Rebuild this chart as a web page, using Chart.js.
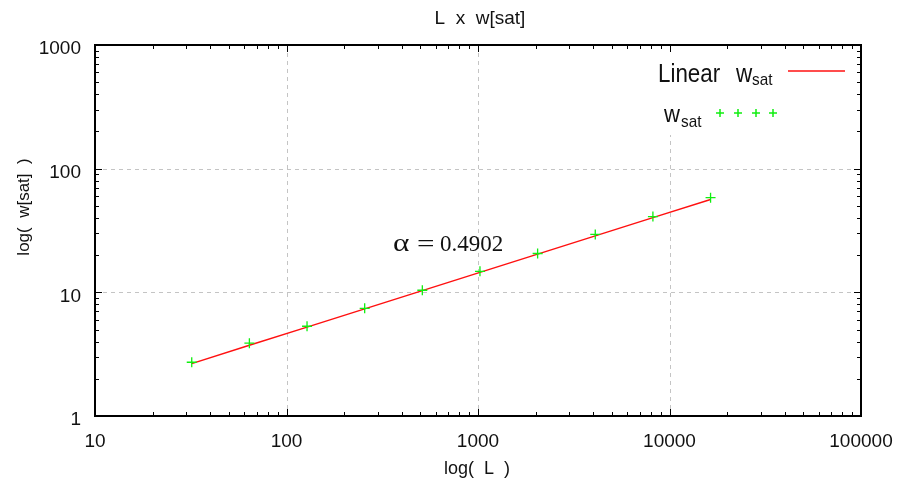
<!DOCTYPE html>
<html>
<head>
<meta charset="utf-8">
<script src="https://cdn.jsdelivr.net/npm/chart.js@4.4.0/dist/chart.umd.min.js"></script>
<style>
  html, body { margin: 0; padding: 0; background: #fff; }
</style>
</head>
<body>
<canvas id="chart" width="901" height="482"></canvas>
<script>
// data
const sizes = [32, 64, 128, 256, 512, 1024, 2048, 4096, 8192, 16384];
const wsat = [2.72, 3.88, 5.32, 7.43, 10.4, 14.8, 20.6, 29.4, 41.0, 58.3];
const fitLine = [2.65, 3.73, 5.23, 7.35, 10.32, 14.5, 20.37, 28.6, 40.2, 56.4];
const xTicks = [10, 100, 1000, 10000, 100000];
const yTicks = [1, 10, 100, 1000];
const alphaValue = '0.4902';

const SANS = '"Liberation Sans", Arial, sans-serif';
const SERIF = '"Liberation Serif", "Times New Roman", serif';
const GREEN = '#10ee10';
const RED = '#ff1010';

function isMajor(list, v) {
  return list.some(t => Math.abs(t - v) / t < 1e-6);
}

// every 1..9 multiple in each decade, for the small inward ticks
function tickValues(list) {
  const out = [];
  for (let i = 0; i < list.length - 1; i++) {
    for (let m = 1; m < 10; m++) out.push({ v: m * list[i], major: m === 1 });
  }
  out.push({ v: list[list.length - 1], major: true });
  return out;
}

function sText(ctx, s, x, y, font, sx) {
  ctx.save();
  ctx.translate(x, y);
  ctx.scale(sx, 1);
  ctx.font = font;
  ctx.fillText(s, 0, 0);
  ctx.restore();
}

function plus(ctx, x, y, r) {
  ctx.beginPath();
  ctx.moveTo(x - r, y); ctx.lineTo(x + r, y);
  ctx.moveTo(x, y - r); ctx.lineTo(x, y + r);
  ctx.stroke();
}

const gnuFrame = {
  id: 'gnuFrame',
  beforeDatasetsDraw(chart) {
    const { ctx, chartArea: a, scales: { x, y } } = chart;
    ctx.save();
    // dashed grid on the decades
    ctx.strokeStyle = '#c4c4c4';
    ctx.lineWidth = 1;
    ctx.setLineDash([4, 4]);
    xTicks.forEach(v => {
      const px = Math.round(x.getPixelForValue(v)) + 0.5;
      if (px <= a.left + 2 || px >= a.right - 2) return;
      ctx.beginPath(); ctx.moveTo(px, a.top); ctx.lineTo(px, a.bottom); ctx.stroke();
    });
    yTicks.forEach(v => {
      const py = Math.round(y.getPixelForValue(v)) + 0.5;
      if (py <= a.top + 2 || py >= a.bottom - 2) return;
      ctx.beginPath(); ctx.moveTo(a.left, py); ctx.lineTo(a.right, py); ctx.stroke();
    });
    ctx.setLineDash([]);
    // legend box is opaque
    ctx.fillStyle = '#fff';
    ctx.fillRect(650, a.top + 2, a.right - 652, 88);
    ctx.restore();
  },
  afterDatasetsDraw(chart) {
    const { ctx, chartArea: a, scales: { x, y } } = chart;
    ctx.save();
    ctx.strokeStyle = '#000';
    ctx.lineWidth = 1;
    tickValues(xTicks).forEach(t => {
      const px = Math.round(x.getPixelForValue(t.v)) + 0.5;
      const len = t.major ? 7 : 4;
      ctx.beginPath();
      ctx.moveTo(px, a.bottom); ctx.lineTo(px, a.bottom - len);
      ctx.moveTo(px, a.top); ctx.lineTo(px, a.top + len);
      ctx.stroke();
    });
    tickValues(yTicks).forEach(t => {
      const py = Math.round(y.getPixelForValue(t.v)) + 0.5;
      const len = t.major ? 7 : 4;
      ctx.beginPath();
      ctx.moveTo(a.left, py); ctx.lineTo(a.left + len, py);
      ctx.moveTo(a.right, py); ctx.lineTo(a.right - len, py);
      ctx.stroke();
    });
    ctx.lineWidth = 2;
    ctx.strokeRect(a.left, a.top, a.right - a.left, a.bottom - a.top);
    ctx.restore();
  },
  afterDraw(chart) {
    const { ctx } = chart;
    ctx.save();
    ctx.fillStyle = '#111';
    ctx.textBaseline = 'alphabetic';

    // title and axis names
    ctx.font = '19px ' + SANS;
    ctx.textAlign = 'center';
    ctx.fillText('L  x  w[sat]', 480, 24);
    ctx.font = '18px ' + SANS;
    ctx.fillText('log(  L  )', 477, 474);
    ctx.save();
    ctx.translate(29, 207);
    ctx.rotate(-Math.PI / 2);
    ctx.font = '17px ' + SANS;
    ctx.fillText('log(  w[sat]  )', 0, 0);
    ctx.restore();

    // slope annotation
    ctx.textAlign = 'left';
    sText(ctx, '\u03b1', 393, 251, '25px ' + SERIF, 1.25);
    sText(ctx, '=', 417, 251, '23px ' + SERIF, 1.35);
    ctx.font = '23px ' + SERIF;
    ctx.fillText(alphaValue, 440, 251);

    // legend
    sText(ctx, 'Linear', 658, 82, '26px ' + SANS, 0.86);
    sText(ctx, 'w', 736, 82, '25px ' + SANS, 0.9);
    sText(ctx, 'sat', 752, 85, '17px ' + SANS, 0.9);
    ctx.strokeStyle = RED;
    ctx.lineWidth = 1.5;
    ctx.beginPath(); ctx.moveTo(788, 71); ctx.lineTo(845, 71); ctx.stroke();

    sText(ctx, 'w', 664, 122, '24px ' + SANS, 0.92);
    sText(ctx, 'sat', 681, 127, '17px ' + SANS, 0.9);
    ctx.strokeStyle = GREEN;
    [720, 738, 756, 773].forEach(px => plus(ctx, px, 113, 4));
    ctx.restore();
  }
};

const tickFont = { family: SANS, size: 19 };

new Chart(document.getElementById('chart'), {
  type: 'scatter',
  data: {
    datasets: [
      {
        label: 'w_sat',
        data: sizes.map((v, i) => ({ x: v, y: wsat[i] })),
        pointStyle: 'cross',
        pointRadius: 5,
        pointBorderWidth: 1.3,
        borderColor: GREEN,
        backgroundColor: GREEN,
        showLine: false
      },
      {
        label: 'Linear w_sat',
        data: sizes.map((v, i) => ({ x: v, y: fitLine[i] })),
        showLine: true,
        borderColor: RED,
        borderWidth: 1.5,
        pointRadius: 0,
        tension: 0
      }
    ]
  },
  options: {
    responsive: false,
    animation: false,
    devicePixelRatio: 1,
    layout: { padding: { left: 0, top: 45, right: 40, bottom: 0 } },
    scales: {
      x: {
        type: 'logarithmic',
        position: 'bottom',
        min: 10,
        max: 100000,
        grid: { display: false, drawTicks: false },
        border: { display: false },
        ticks: {
          autoSkip: false,
          maxRotation: 0,
          padding: 14,
          color: '#111',
          font: tickFont,
          callback: v => isMajor(xTicks, v) ? String(Math.round(v)) : ''
        },
        afterFit(s) { s.height = 66; s.paddingLeft = 0; s.paddingRight = 0; }
      },
      y: {
        type: 'logarithmic',
        position: 'left',
        min: 1,
        max: 1000,
        grid: { display: false, drawTicks: false },
        border: { display: false },
        ticks: {
          autoSkip: false,
          padding: 14,
          labelOffset: 4,
          color: '#111',
          font: tickFont,
          callback: v => isMajor(yTicks, v) ? String(Math.round(v)) : ''
        },
        afterFit(s) { s.width = 95; s.paddingTop = 0; s.paddingBottom = 0; }
      }
    },
    plugins: {
      legend: { display: false },
      tooltip: { enabled: false }
    }
  },
  plugins: [gnuFrame]
});
</script>
</body>
</html>
